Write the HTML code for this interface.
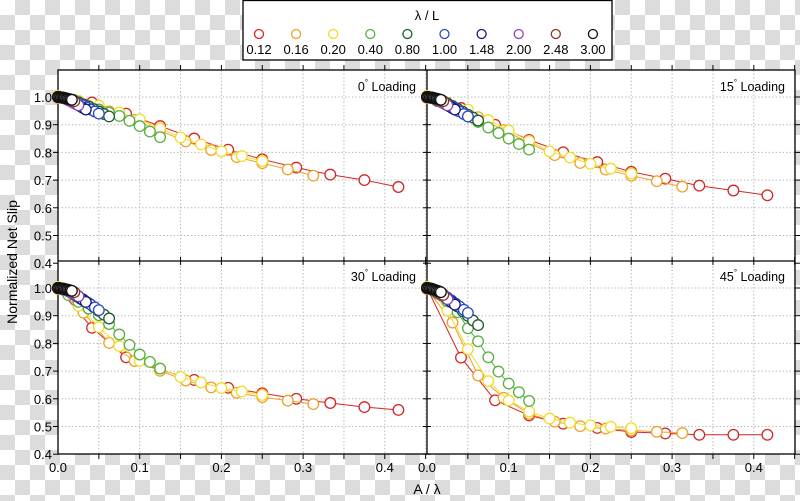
<!DOCTYPE html>
<html><head><meta charset="utf-8"><style>
html,body{margin:0;padding:0;}
body{width:800px;height:501px;overflow:hidden;background:repeating-conic-gradient(#dcdcdc 0 25%,#fff 0 50%) 0 0/30px 30px;font-family:"Liberation Sans","DejaVu Sans",sans-serif;}
svg{position:absolute;left:0;top:0;}
</style></head><body>
<svg id="s" width="800" height="501" xmlns="http://www.w3.org/2000/svg" font-family="Liberation Sans, DejaVu Sans, sans-serif"></svg>
<script>
const S=document.getElementById('s');let h='';
const L=58,M=427,R=795,T=70,MY=261,B=454,SX=817,SY=277;
h+=`<rect x="${L}" y="${T}" width="${R-L}" height="${B-T}" fill="#fff"/>`;
for(let p=0;p<2;p++){const x0=p?M:L;for(let v=0.05;v<0.451;v+=0.05){const x=x0+v*SX;h+=`<line x1="${x}" y1="${T}" x2="${x}" y2="${B}" stroke="#bbb" stroke-width="1" stroke-dasharray="1.5,2"/>`;}}
for(let q=0;q<2;q++){const y1=q?288:97;for(let v=0.5;v<1.05;v+=0.1){const y=y1+(1-v)*SY;h+=`<line x1="${L}" y1="${y}" x2="${R}" y2="${y}" stroke="#bbb" stroke-width="1" stroke-dasharray="1.5,2"/>`;}}
h+=`<rect x="${L}" y="${T}" width="${R-L}" height="${B-T}" fill="none" stroke="#000" stroke-width="1.3"/>`;
h+=`<line x1="${L}" y1="${MY}" x2="${R}" y2="${MY}" stroke="#000" stroke-width="1.3"/><line x1="${M}" y1="${T}" x2="${M}" y2="${B}" stroke="#000" stroke-width="1.3"/>`;
for(let p=0;p<2;p++){const x0=p?M:L;for(let v=0.05;v<0.451;v+=0.05){const x=x0+v*SX;
h+=`<line x1="${x}" y1="${T-5}" x2="${x}" y2="${T}" stroke="#000"/><line x1="${x}" y1="${B}" x2="${x}" y2="${B+5}" stroke="#000"/><line x1="${x}" y1="${MY-4}" x2="${x}" y2="${MY+4}" stroke="#000"/>`;}}
for(let q=0;q<2;q++){const y1=q?288:97;for(let v=0.4;v<1.05;v+=0.1){const y=y1+(1-v)*SY;
h+=`<line x1="${L-5}" y1="${y}" x2="${L}" y2="${y}" stroke="#000"/><line x1="${R}" y1="${y}" x2="${R+5}" y2="${y}" stroke="#000"/><line x1="${M-4}" y1="${y}" x2="${M+4}" y2="${y}" stroke="#000"/>`;
h+=`<text x="${L-6}" y="${y+5}" font-size="13" text-anchor="end">${v.toFixed(1)}</text>`;}}
for(let p=0;p<2;p++){const x0=p?M:L;for(let v=0;v<0.45;v+=0.1){h+=`<text x="${x0+v*SX}" y="${472}" font-size="13" text-anchor="middle">${v.toFixed(1)}</text>`;}}
h+=`<text x="427" y="494" font-size="14" text-anchor="middle">A / λ</text>`;
h+=`<text transform="translate(17,262) rotate(-90)" font-size="14" text-anchor="middle">Normalized Net Slip</text>`;
const tt=[[416,91,'0'],[785,91,'15'],[416,281,'30'],[785,281,'45']];
tt.forEach(t=>{h+=`<text x="${t[0]}" y="${t[1]}" font-size="12.5" text-anchor="end">${t[2]}<tspan font-size="8" dy="-6">°</tspan><tspan dy="6"> Loading</tspan></text>`;});
const cols=['#d42525','#f0a028','#f2dc28','#55b03c','#1c5c2c','#2848c8','#16187a','#8844b4','#8c3422','#111'];
const steps=[1/24,1/32,0.025,0.0125,0.00625,0.005,0.0034,0.0025,0.002,0.0017];
const P=[
{red:[[0,1],[0.042,0.98],[0.083,0.94],[0.125,0.895],[0.167,0.85],[0.208,0.81],[0.25,0.775],[0.292,0.745],[0.333,0.72],[0.375,0.70],[0.417,0.675]],
 yel:[[0,1],[0.05,0.965],[0.1,0.915],[0.15,0.85],[0.2,0.80],[0.25,0.765],[0.3125,0.72]],
 grn:[[0,1],[0.025,0.98],[0.05,0.955],[0.077,0.93],[0.1,0.895],[0.125,0.855]],
 ends:[0.93,0.94,0.955,0.97,0.985,0.99]},
{red:[[0,1],[0.042,0.96],[0.083,0.90],[0.125,0.845],[0.167,0.80],[0.25,0.73],[0.333,0.68],[0.417,0.645]],
 yel:[[0,1],[0.05,0.95],[0.1,0.875],[0.15,0.80],[0.2,0.755],[0.25,0.72],[0.3125,0.68]],
 grn:[[0,1],[0.025,0.97],[0.05,0.93],[0.075,0.89],[0.1,0.85],[0.125,0.81]],
 ends:[0.915,0.93,0.955,0.97,0.985,0.99]},
{red:[[0,1],[0.042,0.855],[0.083,0.75],[0.125,0.705],[0.167,0.668],[0.208,0.64],[0.25,0.62],[0.292,0.60],[0.333,0.585],[0.375,0.57],[0.417,0.56]],
 yel:[[0,1],[0.033,0.91],[0.05,0.855],[0.064,0.80],[0.076,0.785],[0.094,0.74],[0.125,0.705],[0.15,0.675],[0.2,0.635],[0.25,0.61],[0.3125,0.585]],
 grn:[[0,1],[0.025,0.95],[0.051,0.90],[0.064,0.866],[0.077,0.826],[0.089,0.79],[0.1,0.76],[0.114,0.73],[0.127,0.705]],
 ends:[0.89,0.92,0.95,0.97,0.985,0.99]},
{red:[[0,1],[0.04,0.755],[0.083,0.595],[0.125,0.54],[0.167,0.51],[0.208,0.495],[0.25,0.48],[0.292,0.475],[0.333,0.47],[0.417,0.47]],
 yel:[[0,1],[0.024,0.92],[0.05,0.775],[0.063,0.685],[0.075,0.66],[0.1,0.59],[0.125,0.55],[0.15,0.525],[0.175,0.51],[0.2,0.50],[0.25,0.49],[0.3125,0.48]],
 grn:[[0,1],[0.0125,0.98],[0.024,0.955],[0.037,0.915],[0.048,0.862],[0.062,0.81],[0.075,0.75],[0.087,0.70],[0.1,0.655],[0.114,0.62],[0.126,0.59]],
 ends:[0.866,0.91,0.94,0.96,0.975,0.985]}];
function interp(k,x){for(let i=1;i<k.length;i++){if(x<=k[i][0]+1e-9){const a=k[i-1],b=k[i];return a[1]+(b[1]-a[1])*(x-a[0])/(b[0]-a[0]);}}return k[k.length-1][1];}
P.forEach((pd,pi)=>{const x0=(pi%2)?M:L, y1=pi<2?97:288;
 for(let si=0;si<=9;si++){let kp;
  if(si==0)kp=pd.red;else if(si<=2){kp=pd.yel.map(p=>[p[0],p[1]+(si==1?-0.004:0.004)]);}else if(si==3)kp=pd.grn;
  else{const e=pd.ends[si-4],xe=steps[si]*10;kp=[[0,1],[xe*0.3,1-(1-e)*0.15],[xe*0.6,1-(1-e)*0.5],[xe,e]];}
  let pts=[];for(let i=0;i<=10;i++){const x=i*steps[si];if(x>kp[kp.length-1][0]+1e-6)break;pts.push([x0+x*SX,y1+(1-interp(kp,x))*SY]);}
  h+=`<polyline points="${pts.map(p=>p[0].toFixed(1)+','+p[1].toFixed(1)).join(' ')}" fill="none" stroke="${cols[si]}" stroke-width="1"/>`;
  pts.forEach(p=>{h+=`<circle cx="${p[0].toFixed(1)}" cy="${p[1].toFixed(1)}" r="5.3" fill="#fff" stroke="${cols[si]}" stroke-width="1.3"/>`;});
 }});
h+=`<rect x="243" y="0.5" width="369" height="59.5" fill="#fff" stroke="#000" stroke-width="1.3"/>`;
h+=`<text x="427" y="20" font-size="13" text-anchor="middle">λ / L</text>`;
const lab=['0.12','0.16','0.20','0.40','0.80','1.00','1.48','2.00','2.48','3.00'];
lab.forEach((t,i)=>{const x=259+i*37.1;h+=`<circle cx="${x}" cy="34" r="4.5" fill="#fff" stroke="${cols[i]}" stroke-width="1.3"/><text x="${x}" y="54" font-size="13" text-anchor="middle">${t}</text>`;});
S.innerHTML=h;
</script>
</body></html>
